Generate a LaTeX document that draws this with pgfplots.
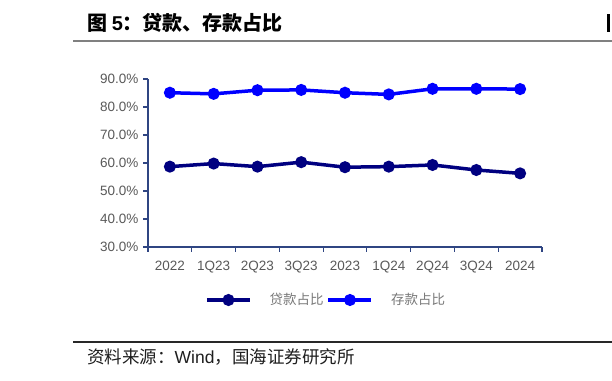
\documentclass[border=0pt]{standalone}
\usepackage{fontspec}
\setmainfont{Liberation Sans}
\newfontfamily\cjk{Noto Sans CJK SC}
\usepackage{pgfplots}
\pgfplotsset{compat=1.18}
\definecolor{loancol}{RGB}{0,0,128}
\definecolor{depcol}{RGB}{0,0,255}
\definecolor{axiscol}{RGB}{47,69,130}
\definecolor{tickgrey}{RGB}{89,89,89}
\definecolor{leggrey}{RGB}{120,120,120}
\begin{document}
\begin{tikzpicture}
\path[use as bounding box] (0bp,0bp) rectangle (612bp,381bp);
% title
\node[anchor=west,inner sep=0pt] at (87bp,358bp) {\fontsize{20bp}{24bp}\selectfont{\cjk\bfseries 图 }{\bfseries 5}{\cjk\bfseries ：贷款、存款占比}};
\fill[black] (607bp,349bp) rectangle (610bp,367bp);
\draw[color={rgb,255:red,128;green,128;blue,128},line width=2bp] (73bp,340bp) -- (612bp,340bp);
% bottom
\draw[color={rgb,255:red,40;green,40;blue,40},line width=1.5bp] (73bp,39bp) -- (612bp,39bp);
\node[anchor=west,inner sep=0pt,text={rgb,255:red,30;green,30;blue,30}] at (87bp,24bp) {\fontsize{17.5bp}{20bp}\selectfont{\cjk 资料来源：}Wind{\cjk ，国海证券研究所}};
\begin{axis}[
  at={(148bp,134bp)}, anchor=south west,
  scale only axis, width=394bp, height=168bp,
  xmin=-0.5, xmax=8.5, ymin=30, ymax=90,
  axis x line*=bottom, axis y line*=left,
  axis line style={draw=axiscol, line width=1.2bp},
  xtick={0,...,8},
  xticklabels={2022,1Q23,2Q23,3Q23,2023,1Q24,2Q24,3Q24,2024},
  major x tick style={draw=none},
  minor xtick={-0.5,0.5,1.5,2.5,3.5,4.5,5.5,6.5,7.5,8.5},
  ytick={30,40,50,60,70,80,90},
  yticklabel={\pgfmathprintnumber[fixed,fixed zerofill,precision=1]{\tick}\%},
  tick align=outside,
  major tick length=5bp, minor tick length=5bp,
  tick style={draw=axiscol, line width=1.2bp},
  ticklabel style={font=\fontsize{13.5bp}{16bp}\selectfont, text=tickgrey},
  xticklabel style={yshift=-6bp},
  yticklabel style={xshift=-1bp},
  /pgf/number format/assume math mode=true,
  legend columns=2,
  legend style={at={(axis description cs:0.1447,-0.3155)}, anchor=west,
    draw=none, fill=none, inner sep=0pt,
    font=\fontsize{13.5bp}{16bp}\selectfont\cjk, text=leggrey,
    nodes={inner sep=0pt},
    /tikz/every odd column/.append style={column sep=18bp},
    /tikz/every even column/.append style={column sep=3bp}},
  legend image code/.code={\draw[mark repeat=2,mark phase=2,#1] plot coordinates {(0bp,0bp)(21.5bp,0bp)(43bp,0bp)};},
]
\addplot[color=loancol, line width=3.5bp, mark=*, mark size=4.2bp, mark options={solid}]
  coordinates {(0,58.7)(1,59.8)(2,58.7)(3,60.3)(4,58.5)(5,58.7)(6,59.3)(7,57.5)(8,56.3)};
\addlegendentry{贷款占比}
\addplot[color=depcol, line width=3.5bp, mark=*, mark size=4.2bp, mark options={solid}]
  coordinates {(0,85.1)(1,84.7)(2,86.0)(3,86.1)(4,85.1)(5,84.5)(6,86.5)(7,86.5)(8,86.4)};
\addlegendentry{存款占比}
\end{axis}
\end{tikzpicture}
\end{document}
